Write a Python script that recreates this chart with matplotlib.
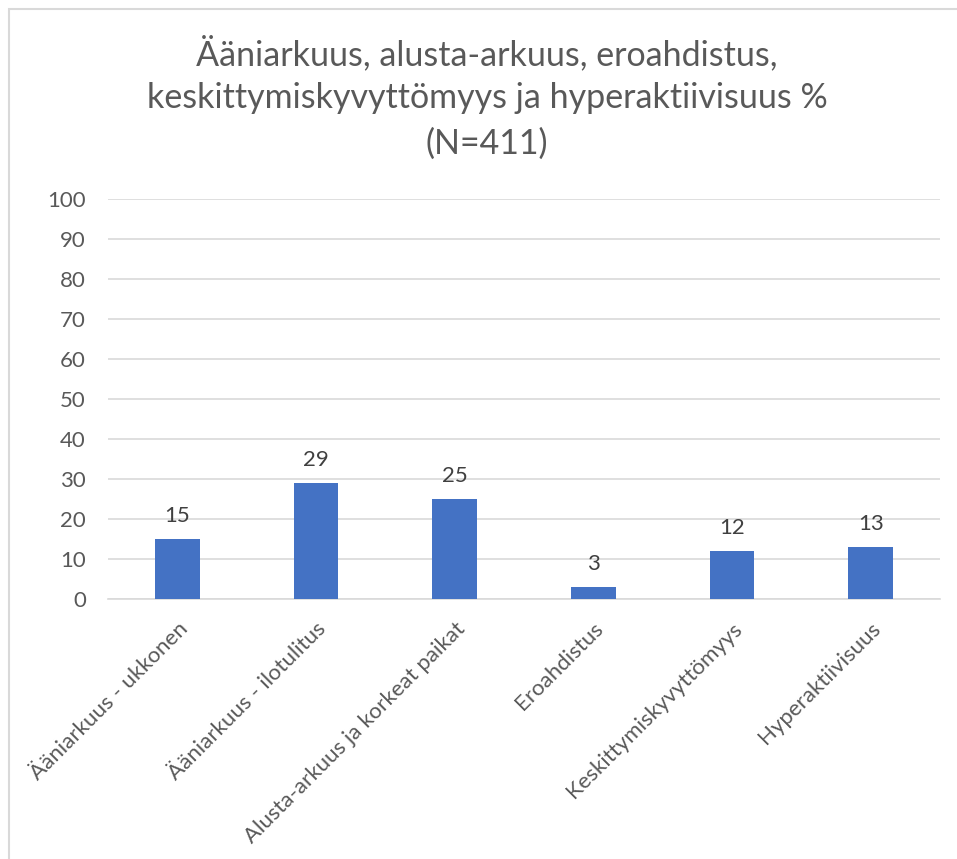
import matplotlib.pyplot as plt
from matplotlib.patches import Rectangle

categories = ["Ääniarkuus - ukkonen", "Ääniarkuus - ilotulitus",
              "Alusta-arkuus ja korkeat paikat", "Eroahdistus",
              "Keskittymiskyvyttömyys", "Hyperaktiivisuus"]
values = [15, 29, 25, 3, 12, 13]
yticks = list(range(0, 101, 10))
title_lines = ["Ääniarkuus, alusta-arkuus, eroahdistus,",
               "keskittymiskyvyttömyys ja hyperaktiivisuus %",
               "(N=411)"]

plt.rcParams['font.family'] = ['Lato', 'DejaVu Sans']

W, H = 957, 859
fig = plt.figure(figsize=(W / 100, H / 100), dpi=100)
ax = fig.add_axes([108 / W, 1 - 599 / H, (940 - 108) / W, (599 - 199) / H])

# chart frame
fig.patches.append(Rectangle((9 / W, -0.1), 1.2, 1.1 - 9 / H, transform=fig.transFigure,
                             fill=False, edgecolor="#d9d9d9", linewidth=1.5))

x = list(range(len(categories)))
bars = ax.bar(x, values, width=0.32, color="#4472C4", zorder=3)
for xi, v in zip(x, values):
    ax.text(xi, v + 3.2, str(v), ha="center", va="bottom", fontsize=16, color="#404040")

ax.set_xlim(-0.5, len(categories) - 0.5)
ax.set_ylim(0, 100)
ax.set_yticks(yticks)
ax.yaxis.grid(True, color="#d9d9d9", linewidth=1.2, zorder=0)
ax.tick_params(axis="y", length=0, labelsize=16, labelcolor="#595959", pad=16)
ax.tick_params(axis="x", length=0, pad=14)
ax.set_xticks(x)
ax.set_xticklabels(categories, rotation=45, ha="right", rotation_mode="anchor",
                   fontsize=16, color="#595959")
for s in ["top", "right", "left"]:
    ax.spines[s].set_visible(False)
ax.spines["bottom"].set_color("#d9d9d9")
ax.spines["bottom"].set_linewidth(1.2)

for line, y in zip(title_lines, [53, 98, 144]):
    fig.text(487 / W, 1 - y / H, line, ha="center", va="center", fontsize=24.5, color="#595959")

fig.savefig("out.png", dpi=100)
